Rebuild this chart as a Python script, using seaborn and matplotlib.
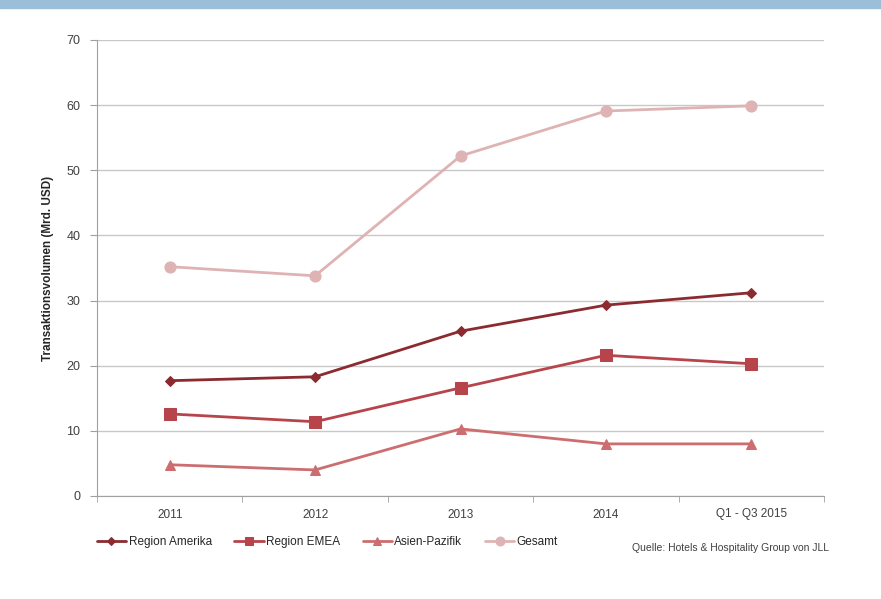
import pandas as pd
import matplotlib.pyplot as plt
import seaborn as sns
from matplotlib.patches import Rectangle

years = ['2011', '2012', '2013', '2014', 'Q1 - Q3 2015']
amerika = [17.7, 18.3, 25.3, 29.3, 31.2]
emea = [12.6, 11.4, 16.6, 21.6, 20.3]
asien = [4.8, 4.0, 10.3, 8.0, 8.0]
gesamt = [35.2, 33.8, 52.2, 59.1, 59.9]

series = ['Region Amerika', 'Region EMEA', 'Asien-Pazifik', 'Gesamt']
colors = ['#8b2b30', '#b8444b', '#cc6e70', '#dfb3b3']
markers = ['D', 's', '^', 'o']
msizes = [5, 8, 7, 8]

df = pd.DataFrame({
    'Jahr': years * 4,
    'Wert': amerika + emea + asien + gesamt,
    'Serie': [s for s in series for _ in years],
})

sns.set_style('white')
plt.rcParams['font.family'] = ['Liberation Sans', 'DejaVu Sans']

fig = plt.figure(figsize=(8.81, 5.99), dpi=100)
ax = fig.add_axes([97 / 881, 1 - 496 / 599, 727 / 881, 456 / 599])

for s, c, m, ms in zip(series, colors, markers, msizes):
    sns.lineplot(data=df[df['Serie'] == s], x='Jahr', y='Wert', color=c,
                 marker=m, markersize=ms, markeredgecolor=c, linewidth=2,
                 sort=False, label=s, ax=ax)

ax.set_xlim(-0.5, 4.5)
ax.set_ylim(0, 70)
ax.set_yticks(range(0, 71, 10))
ax.yaxis.grid(True, color='#c8c8c8', linewidth=1)
ax.set_axisbelow(True)
for side in ['top', 'right']:
    ax.spines[side].set_visible(False)
for side in ['left', 'bottom']:
    ax.spines[side].set_color('#a0a0a0')
ax.set_xlabel('')
ax.set_ylabel('Transaktionsvolumen (Mrd. USD)', fontsize=8.5, fontweight='bold', labelpad=9)
ax.tick_params(axis='y', length=5, color='#a0a0a0', labelsize=9, labelcolor='#404040', left=True, pad=7)
ax.tick_params(axis='x', length=0, labelsize=8.5, labelcolor='#404040', pad=9)
ax.set_xticks([i + 0.5 for i in range(-1, 5)], minor=True)
ax.tick_params(axis='x', which='minor', length=4, color='#a0a0a0', bottom=True)

ax.legend(loc='upper left', bbox_to_anchor=(-0.015, -0.065), ncol=4, frameon=False,
          fontsize=8.5, handlelength=2.5, handletextpad=0.2, columnspacing=1.9,
          markerscale=0.8)

fig.text(829 / 881, 1 - 548 / 599, 'Quelle: Hotels & Hospitality Group von JLL',
         ha='right', va='center', fontsize=7.5, color='#404040')

fig.patches.append(Rectangle((0, 1 - 8 / 599), 1, 8 / 599, transform=fig.transFigure,
                             color='#9bbfd9', zorder=0))

fig.savefig('out.png', dpi=100)
